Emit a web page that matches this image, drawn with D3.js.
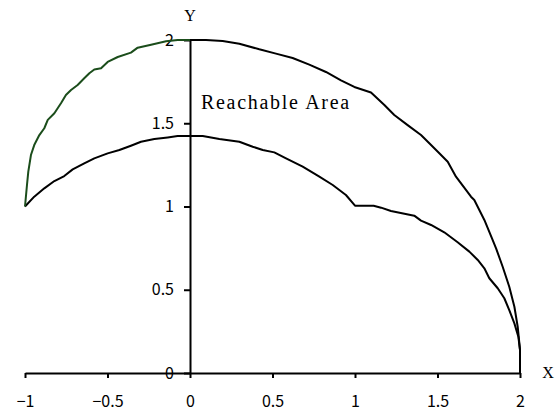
<!DOCTYPE html>
<html>
<head>
<meta charset="utf-8">
<script src="https://cdn.jsdelivr.net/npm/d3@7"></script>
<style>
  html, body { margin: 0; padding: 0; background: #fff; }
  svg { display: block; }
</style>
</head>
<body>
<svg id="chart" width="556" height="413"></svg>
<script>
// Upper-left boundary of the reachable area (x, y)
const outerLeftX = [-1.0, -0.988, -0.98, -0.964, -0.944, -0.913, -0.883, -0.862, -0.822, -0.782, -0.752, -0.721, -0.681, -0.641, -0.61, -0.58, -0.539, -0.499, -0.438, -0.358, -0.317, -0.236, -0.145, -0.075, 0.0];
const outerLeftY = [1.0, 1.129, 1.209, 1.309, 1.369, 1.429, 1.47, 1.52, 1.56, 1.62, 1.67, 1.7, 1.73, 1.77, 1.8, 1.823, 1.83, 1.868, 1.898, 1.924, 1.954, 1.972, 1.992, 2.0, 2.0];

// Upper-right boundary
const outerRightX = [0.0, 0.097, 0.198, 0.299, 0.42, 0.521, 0.622, 0.723, 0.824, 0.915, 0.996, 1.097, 1.178, 1.238, 1.319, 1.4, 1.461, 1.511, 1.562, 1.612, 1.703, 1.723, 1.784, 1.834, 1.855, 1.895, 1.935, 1.966, 1.986, 2.0, 2.0];
const outerRightY = [2.0, 2.0, 1.994, 1.978, 1.944, 1.918, 1.892, 1.852, 1.808, 1.758, 1.718, 1.685, 1.61, 1.55, 1.489, 1.429, 1.369, 1.32, 1.269, 1.179, 1.059, 1.039, 0.919, 0.799, 0.749, 0.638, 0.518, 0.398, 0.278, 0.14, 0.0];

// Lower boundary
const innerX = [-1.0, -0.944, -0.883, -0.822, -0.762, -0.711, -0.641, -0.58, -0.499, -0.428, -0.358, -0.297, -0.216, -0.135, -0.075, 0.0, 0.077, 0.178, 0.299, 0.38, 0.441, 0.511, 0.582, 0.683, 0.784, 0.865, 0.945, 1.0, 1.113, 1.158, 1.218, 1.359, 1.4, 1.461, 1.541, 1.622, 1.693, 1.744, 1.784, 1.814, 1.865, 1.905, 1.935, 1.966, 1.99, 2.0, 2.0];
const innerY = [1.0, 1.059, 1.109, 1.153, 1.183, 1.223, 1.259, 1.289, 1.319, 1.339, 1.365, 1.389, 1.405, 1.415, 1.423, 1.423, 1.423, 1.405, 1.389, 1.359, 1.339, 1.325, 1.289, 1.239, 1.179, 1.129, 1.069, 1.005, 1.005, 0.993, 0.973, 0.945, 0.915, 0.889, 0.845, 0.785, 0.729, 0.679, 0.629, 0.569, 0.509, 0.449, 0.378, 0.298, 0.218, 0.138, 0.0];

const xTicks = [-1, -0.5, 0, 0.5, 1, 1.5, 2];
const xTickLabels = ["\u22121", "\u22120.5", "0", "0.5", "1", "1.5", "2"];
const yTicks = [0, 0.5, 1, 1.5, 2];
const yTickLabels = ["0", "0.5", "1", "1.5", "2"];

const svg = d3.select("#chart");
const x = d3.scaleLinear().domain([-1, 2]).range([25, 520]);
const y = d3.scaleLinear().domain([0, 2]).range([373, 40]);

const tickFont = "'Noto Sans CJK JP', 'Noto Sans', sans-serif";
const serif = "'Liberation Serif', 'DejaVu Serif', serif";

// x axis along y = 0
const gx = svg.append("g")
  .attr("transform", `translate(0,${y(0)})`)
  .call(d3.axisBottom(x).tickValues(xTicks)
    .tickFormat((d, i) => xTickLabels[i])
    .tickSizeInner(5).tickSizeOuter(0).tickPadding(18));

// y axis along x = 0
const gy = svg.append("g")
  .attr("transform", `translate(${x(0)},0)`)
  .call(d3.axisLeft(y).tickValues(yTicks)
    .tickFormat((d, i) => yTickLabels[i])
    .tickSizeInner(6).tickSizeOuter(0).tickPadding(10));

[gx, gy].forEach(g => {
  g.select(".domain").attr("stroke", "#000").attr("stroke-width", 2);
  g.selectAll(".tick line").attr("stroke", "#000").attr("stroke-width", 2);
  g.selectAll(".tick text")
    .attr("fill", "#000")
    .style("font-family", tickFont)
    .style("font-size", "16px");
});

const line = d3.line().x(d => x(d[0])).y(d => y(d[1]));
const pts = (xs, ys) => xs.map((v, i) => [v, ys[i]]);

svg.append("path")
  .datum(pts(innerX, innerY))
  .attr("d", line)
  .attr("fill", "none").attr("stroke", "#000").attr("stroke-width", 2)
  .attr("stroke-linejoin", "round");

svg.append("path")
  .datum(pts(outerRightX, outerRightY))
  .attr("d", line)
  .attr("fill", "none").attr("stroke", "#000").attr("stroke-width", 2)
  .attr("stroke-linejoin", "round");

svg.append("path")
  .datum(pts(outerLeftX, outerLeftY))
  .attr("d", line)
  .attr("fill", "none").attr("stroke", "#1b4d1b").attr("stroke-width", 2)
  .attr("stroke-linejoin", "round");

// Axis titles
svg.append("text")
  .attr("x", x(0)).attr("y", 21)
  .attr("text-anchor", "middle")
  .style("font-family", serif).style("font-size", "16px")
  .text("Y");

svg.append("text")
  .attr("x", 548).attr("y", y(0) + 5)
  .attr("text-anchor", "middle")
  .style("font-family", serif).style("font-size", "16px")
  .text("X");

// Region label
svg.append("text")
  .attr("x", 201).attr("y", 109)
  .style("font-family", serif).style("font-size", "20px")
  .style("letter-spacing", "1.7px")
  .text("Reachable Area");
</script>
</body>
</html>
